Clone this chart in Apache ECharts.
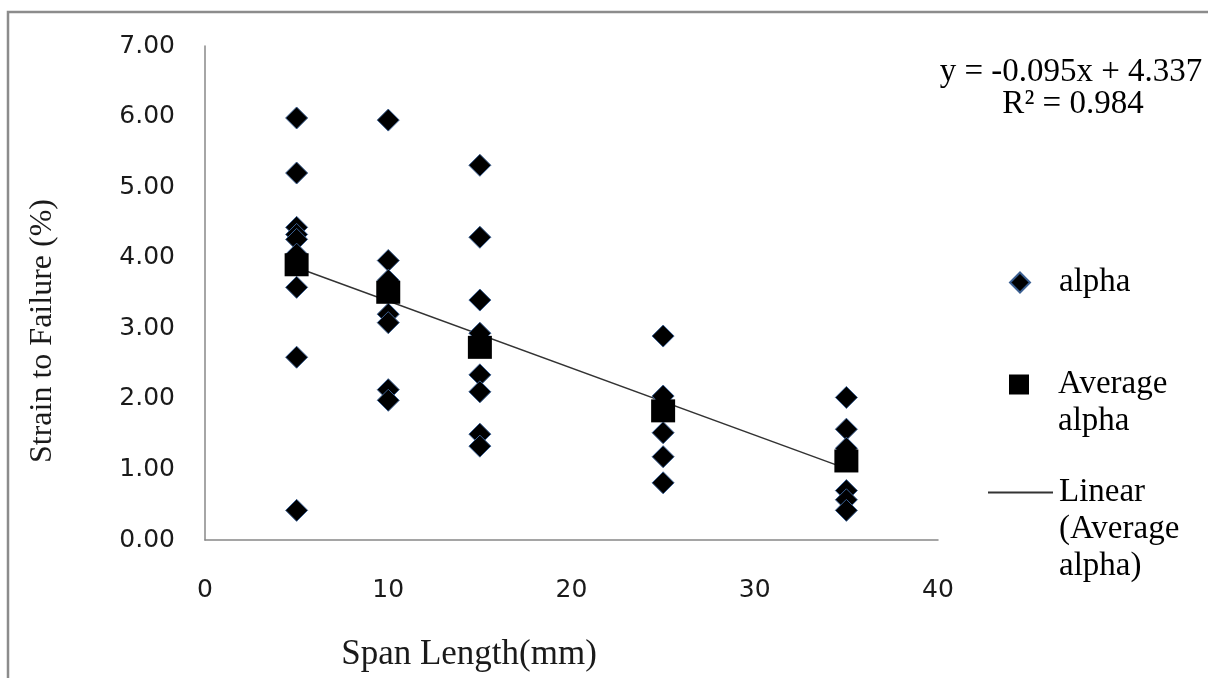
<!DOCTYPE html>
<html>
<head>
<meta charset="utf-8">
<title>Strain to Failure vs Span Length</title>
<script src="https://cdn.jsdelivr.net/npm/echarts@6/dist/echarts.min.js"></script>
<style>
  html, body { margin: 0; padding: 0; background: #fff; }
  #main { width: 1208px; height: 678px; }
</style>
</head>
<body>
<div id="main"></div>
<script>
// span lengths (mm) and the strain readings at each span
var spans = [5, 10, 15, 25, 35];
var alpha5 = [5.98, 5.20, 4.43, 4.33, 4.26, 4.05, 3.58, 2.59, 0.42];
var alpha10 = [5.95, 3.96, 3.68, 3.20, 3.08, 2.13, 1.98];
var alpha15 = [5.31, 4.29, 3.40, 2.93, 2.34, 2.10, 1.50, 1.33];
var alpha25 = [2.89, 2.04, 1.52, 1.18, 0.81];
var alpha35 = [2.02, 1.57, 1.30, 0.70, 0.57, 0.42];
// averages
var avgAlpha = [3.90, 3.51, 2.73, 1.83, 1.12];
// linear trend y = -0.095x + 4.337 at the end spans
var trendX = [5, 35];
var trendY = [3.862, 1.012];
var xTicks = [0, 10, 20, 30, 40];
var yTicks = [0, 1, 2, 3, 4, 5, 6, 7];

var groups = [alpha5, alpha10, alpha15, alpha25, alpha35];
var alphaPts = [];
groups.forEach(function (g, i) {
  g.forEach(function (v) { alphaPts.push([spans[i], v]); });
});
var avgPts = spans.map(function (s, i) { return [s, avgAlpha[i]]; });
var trendPts = trendX.map(function (s, i) { return [s, trendY[i]]; });

var serif = '"Liberation Serif", "Times New Roman", serif';
var legendText = {
  'alpha': 'alpha',
  'Average alpha': '\nAverage\nalpha',
  'Linear (Average alpha)': '\n\nLinear\n(Average\nalpha)'
};
// one legend per entry so each icon sits on the first line of its text
function legendBox(name, top, w, h, gap, extra) {
  var lg = {
    data: [name],
    orient: 'vertical',
    left: 1019 - w / 2,
    top: top,
    padding: 0,
    itemWidth: w,
    itemHeight: h,
    symbolKeepAspect: true,
    selectedMode: false,
    formatter: function (n) { return legendText[n]; },
    textStyle: { fontFamily: serif, fontSize: 33, lineHeight: 37, color: '#000', padding: [0, 0, 0, gap] }
  };
  if (extra) { for (var k in extra) lg[k] = extra[k]; }
  return lg;
}

var myChart = echarts.init(document.getElementById('main'));
var option = {
  backgroundColor: '#fff',
  animation: false,
  grid: { left: 205, top: 46, right: 270, bottom: 138 },
  xAxis: {
    type: 'value',
    min: xTicks[0],
    max: xTicks[xTicks.length - 1],
    interval: 10,
    axisLine: { lineStyle: { color: '#888', width: 1.5 } },
    axisTick: { show: false },
    splitLine: { show: false },
    axisLabel: { margin: 38, fontFamily: '"DejaVu Sans", sans-serif', fontSize: 25, color: '#1a1a1a' }
  },
  yAxis: {
    type: 'value',
    min: yTicks[0],
    max: yTicks[yTicks.length - 1],
    interval: 1,
    axisLine: { show: true, lineStyle: { color: '#888', width: 1.5 } },
    axisTick: { show: false },
    splitLine: { show: false },
    axisLabel: {
      margin: 30,
      fontFamily: '"DejaVu Sans", sans-serif',
      fontSize: 25,
      color: '#1a1a1a',
      formatter: function (v) { return v.toFixed(2); }
    }
  },
  legend: [
    legendBox('alpha', 264, 20, 20, 24),
    legendBox('Average alpha', 329, 20, 20, 24),
    legendBox('Linear (Average alpha)', 400, 65, 14, 1,
      { left: 987, itemStyle: { color: 'rgba(0,0,0,0)', borderWidth: 0, opacity: 0 } })
  ],
  graphic: [
    { type: 'rect', shape: { x: 8, y: 12, width: 1400, height: 900 },
      style: { fill: 'none', stroke: '#8c8c8c', lineWidth: 2.5 }, silent: true },
    { type: 'text', x: 1071, y: 72,
      style: { text: 'y = -0.095x + 4.337', font: '33px ' + serif, fill: '#000', align: 'center', verticalAlign: 'middle' } },
    { type: 'text', x: 1073, y: 104,
      style: { text: 'R² = 0.984', font: '33px ' + serif, fill: '#000', align: 'center', verticalAlign: 'middle' } },
    { type: 'text', x: 469, y: 655,
      style: { text: 'Span Length(mm)', font: '35px ' + serif, fill: '#1a1a1a', align: 'center', verticalAlign: 'middle' } },
    { type: 'text', x: 43, y: 331, rotation: Math.PI / 2,
      style: { text: 'Strain to Failure (%)', font: '32px ' + serif, fill: '#1a1a1a', align: 'center', verticalAlign: 'middle' } }
  ],
  series: [
    {
      name: 'Linear (Average alpha)',
      type: 'line',
      data: trendPts,
      symbol: 'none',
      z: 1,
      lineStyle: { color: '#333', width: 1.5 },
      itemStyle: { color: '#333' }
    },
    {
      name: 'alpha',
      type: 'scatter',
      data: alphaPts,
      symbol: 'diamond',
      symbolSize: [22, 22],
      symbolKeepAspect: true,
      z: 2,
      itemStyle: { color: '#000', borderColor: '#3b5f91', borderWidth: 1, opacity: 1 }
    },
    {
      name: 'Average alpha',
      type: 'scatter',
      data: avgPts,
      symbol: 'rect',
      symbolSize: [24, 23],
      symbolKeepAspect: true,
      z: 3,
      itemStyle: { color: '#000', opacity: 1 }
    }
  ]
};
myChart.setOption(option);
</script>
</body>
</html>
